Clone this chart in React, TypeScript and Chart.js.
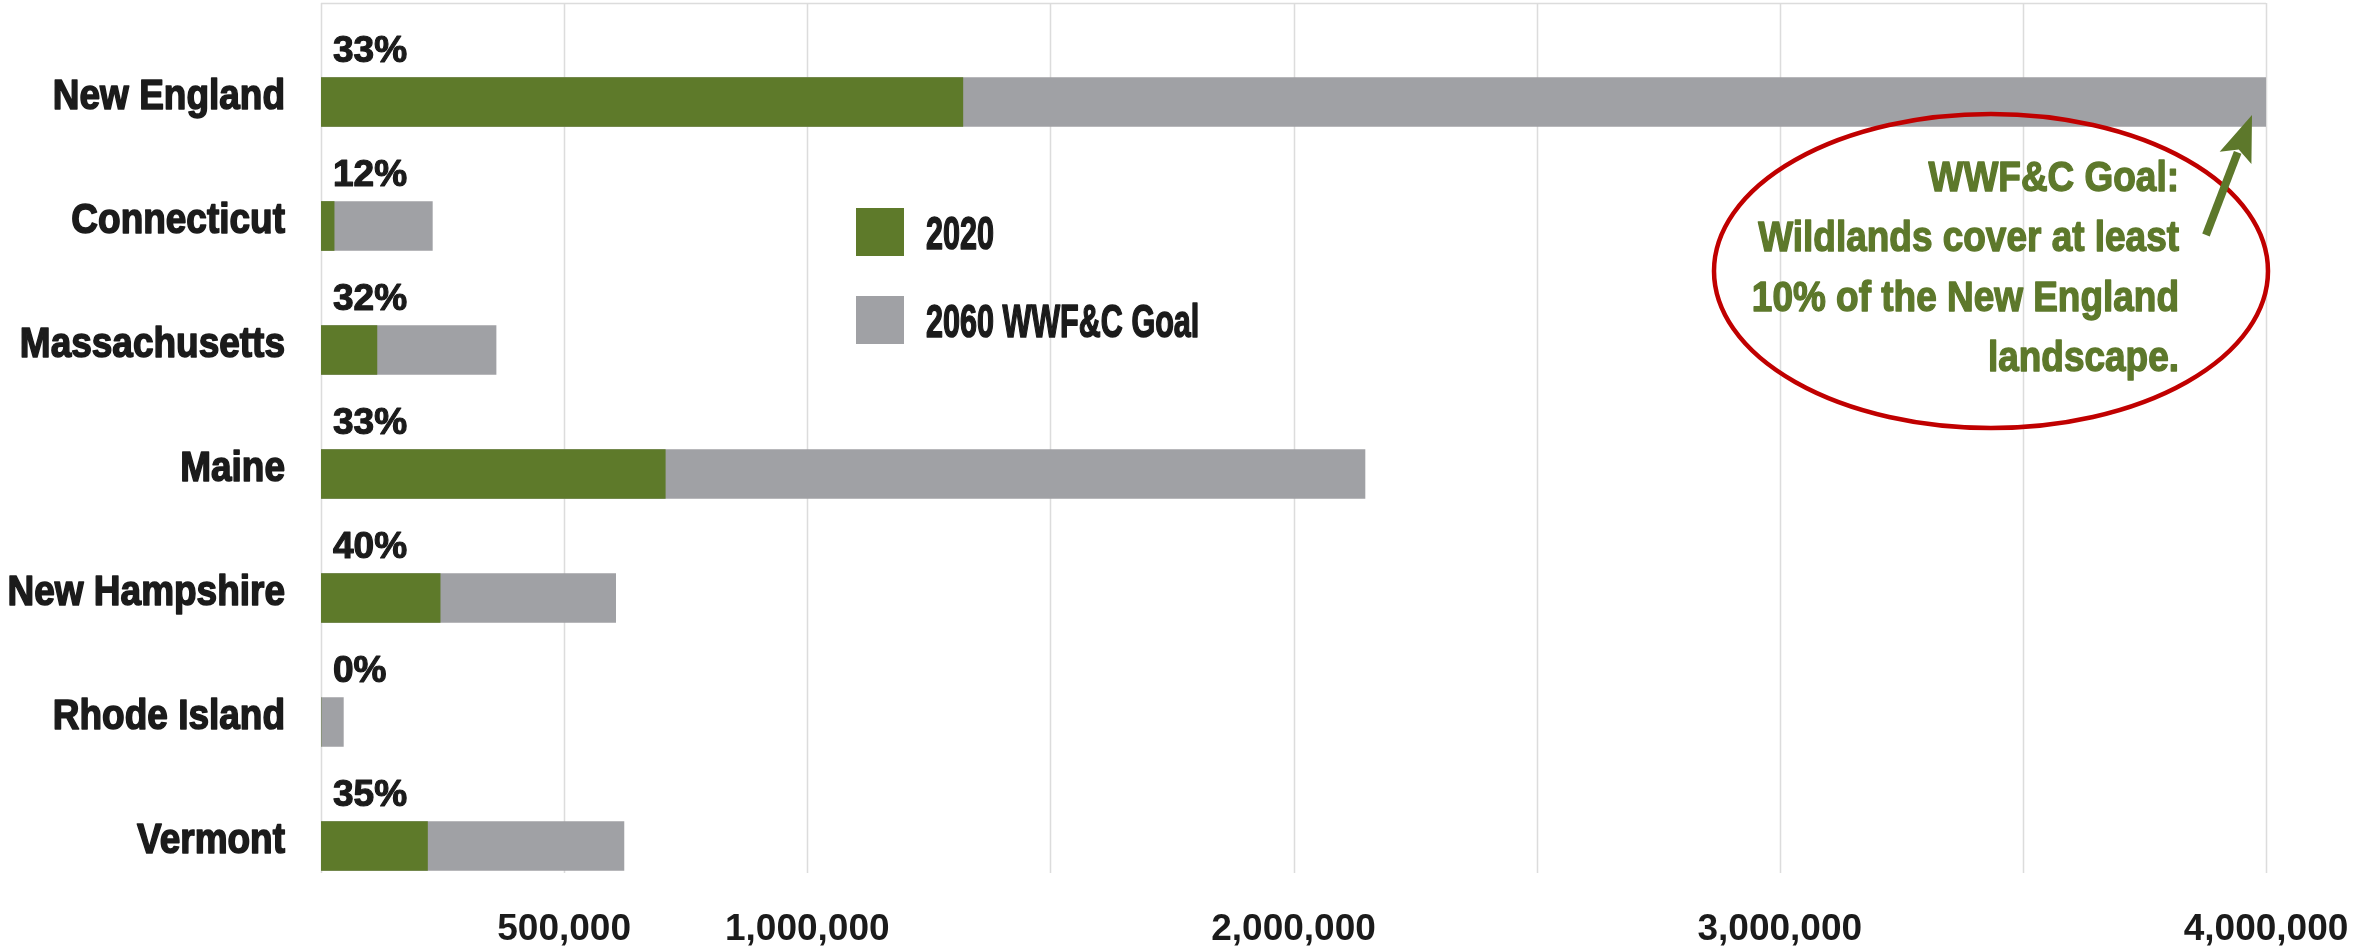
import React, { useEffect, useRef } from 'react';
import { Chart, registerables } from 'chart.js';

Chart.register(...registerables);

// ---- data ----
const categories = ['New England', 'Connecticut', 'Massachusetts', 'Maine', 'New Hampshire', 'Rhode Island', 'Vermont'];
const acres2020 = [1320000, 27000, 115000, 708000, 245000, 0, 219000];
const goal2060 = [4000000, 229000, 360000, 2147000, 606000, 46000, 623000];
const seriesNames = ['2020', '2060 WWF&C Goal'];
const xTickLabelValues = [500000, 1000000, 2000000, 3000000, 4000000];
const xMax = 4000000;
const xStep = 500000;
const annotationLines = ['WWF&C Goal:', 'Wildlands cover at least', '10% of the New England', 'landscape.'];

// ---- styles ----
const GREEN = '#5e7a2a';
const GRAY = '#a0a1a5';
const OLIVE = '#5d782b';
const RED = '#c00000';
const INK = '#1b1b1b';
const GRID = '#dcdcdc';
const SANS = "'Liberation Sans', Arial, sans-serif";

function drawScaledText(
  ctx: any,
  text: string,
  x: number,
  y: number,
  sx: number,
  align: CanvasTextAlign,
  baseline: CanvasTextBaseline,
  stroke = 0,
) {
  ctx.save();
  ctx.translate(x, y);
  ctx.scale(sx, 1);
  ctx.textAlign = align;
  ctx.textBaseline = baseline;
  if (stroke > 0) {
    ctx.strokeStyle = ctx.fillStyle;
    ctx.lineWidth = stroke;
    ctx.lineJoin = 'round';
    ctx.strokeText(text, 0, 0);
  }
  ctx.fillText(text, 0, 0);
  ctx.restore();
}

const gridPlugin = {
  id: 'customGrid',
  beforeDatasetsDraw(chart: any) {
    const { ctx, chartArea } = chart;
    const xs = chart.scales.x;
    const top = chartArea.top - 37;
    const bottom = chartArea.bottom - 35;
    ctx.save();
    ctx.strokeStyle = GRID;
    ctx.lineWidth = 1.5;
    xs.ticks.forEach((t: any) => {
      const px = Math.round(xs.getPixelForValue(t.value)) + 0.5;
      ctx.beginPath();
      ctx.moveTo(px, top);
      ctx.lineTo(px, bottom);
      ctx.stroke();
    });
    ctx.beginPath();
    ctx.moveTo(xs.left, top + 0.5);
    ctx.lineTo(xs.right, top + 0.5);
    ctx.stroke();
    ctx.restore();
  },
};

const overlayPlugin = {
  id: 'overlay',
  afterDatasetsDraw(chart: any) {
    const { ctx, chartArea } = chart;
    const xs = chart.scales.x;
    const ys = chart.scales.y;
    const meta = chart.getDatasetMeta(0);

    // category labels (condensed heavy)
    ctx.save();
    ctx.fillStyle = INK;
    ctx.font = `bold 43px ${SANS}`;
    ys.getLabels().forEach((lab: string, i: number) => {
      const y = ys.getPixelForValue(i);
      drawScaledText(ctx, lab, chartArea.left - 36, y - 5, 0.86, 'right', 'middle', 1.6);
    });
    ctx.restore();

    // percentage labels above each bar
    ctx.save();
    ctx.fillStyle = INK;
    ctx.font = `bold 37px ${SANS}`;
    meta.data.forEach((el: any, i: number) => {
      const pct = goal2060[i] > 0 ? Math.round((acres2020[i] / goal2060[i]) * 100) : 0;
      drawScaledText(ctx, `${pct}%`, chartArea.left + 12, el.y - 40, 1, 'left', 'alphabetic', 1.2);
    });
    ctx.restore();

    // legend
    const ds = chart.data.datasets;
    const lx = chartArea.left + 535;
    const ly = [chartArea.top + 168, chartArea.top + 256];
    ds.forEach((d: any, i: number) => {
      ctx.save();
      ctx.fillStyle = d.backgroundColor;
      ctx.fillRect(lx, ly[i], 48, 48);
      ctx.fillStyle = INK;
      ctx.font = `bold 47px ${SANS}`;
      drawScaledText(ctx, d.label, lx + 70, ly[i] + 41, 0.65, 'left', 'alphabetic', 1.6);
      ctx.restore();
    });

    // annotation ellipse
    const xRight = xs.getPixelForValue(xMax);
    const barY = meta.data[0].y;
    const cx = xRight - 275;
    const cy = barY + 169;
    ctx.save();
    ctx.strokeStyle = RED;
    ctx.lineWidth = 4.5;
    ctx.beginPath();
    ctx.ellipse(cx, cy, 277, 157, 0, 0, Math.PI * 2);
    ctx.stroke();

    // annotation text
    ctx.fillStyle = OLIVE;
    ctx.font = `bold 42px ${SANS}`;
    annotationLines.forEach((line, i) => {
      drawScaledText(ctx, line, xRight - 87, barY + 89 + i * 60, 0.88, 'right', 'alphabetic', 1.4);
    });

    // arrow
    const tipX = xRight - 14;
    const tipY = barY + 13;
    const tailX = tipX - 46;
    const tailY = tipY + 120;
    const dx = tipX - tailX;
    const dy = tipY - tailY;
    const len = Math.hypot(dx, dy);
    const ux = dx / len;
    const uy = dy / len;
    const L = 46;
    const hw = 17;
    const bx = tipX - ux * L;
    const by = tipY - uy * L;
    ctx.strokeStyle = OLIVE;
    ctx.fillStyle = OLIVE;
    ctx.lineWidth = 8;
    ctx.beginPath();
    ctx.moveTo(tailX, tailY);
    ctx.lineTo(bx + ux * 6, by + uy * 6);
    ctx.stroke();
    ctx.beginPath();
    ctx.moveTo(tipX, tipY);
    ctx.lineTo(bx - uy * hw, by + ux * hw);
    ctx.lineTo(bx + ux * 9, by + uy * 9);
    ctx.lineTo(bx + uy * hw, by - ux * hw);
    ctx.closePath();
    ctx.fill();
    ctx.restore();
  },
};

export default function App() {
  const ref = useRef<HTMLCanvasElement>(null);

  useEffect(() => {
    const canvas = ref.current;
    if (!canvas) return;
    const chart = new Chart(canvas, {
      type: 'bar',
      data: {
        labels: categories,
        datasets: [
          {
            label: seriesNames[0],
            data: acres2020,
            backgroundColor: GREEN,
            borderWidth: 0,
            barThickness: 49,
            grouped: false,
          } as any,
          {
            label: seriesNames[1],
            data: goal2060,
            backgroundColor: GRAY,
            borderWidth: 0,
            barThickness: 49,
            grouped: false,
          } as any,
        ],
      },
      options: {
        indexAxis: 'y',
        responsive: false,
        animation: false,
        devicePixelRatio: 1,
        layout: { padding: { top: 40, right: 108, left: 0, bottom: 0 } },
        plugins: {
          legend: { display: false },
          tooltip: { enabled: false },
        },
        scales: {
          x: {
            type: 'linear',
            position: 'bottom',
            min: 0,
            max: xMax,
            grid: { display: false, drawTicks: false },
            border: { display: false },
            ticks: {
              stepSize: xStep,
              autoSkip: false,
              maxRotation: 0,
              padding: 0,
              color: INK,
              font: { family: SANS, size: 37, weight: 'bold' },
              callback: (v: any) => (xTickLabelValues.includes(Number(v)) ? Number(v).toLocaleString('en-US') : ''),
            },
            afterFit: (scale: any) => {
              scale.height = 43;
            },
          },
          y: {
            type: 'category',
            grid: { display: false, drawTicks: false },
            border: { display: false },
            ticks: { display: false },
            afterFit: (scale: any) => {
              scale.width = 321;
            },
          },
        },
      } as any,
      plugins: [gridPlugin, overlayPlugin],
    });
    return () => chart.destroy();
  }, []);

  return (
    <div style={{ position: 'absolute', left: 0, top: 0, width: 2374, height: 951, background: '#ffffff' }}>
      <canvas ref={ref} width={2374} height={951} style={{ display: 'block', width: 2374, height: 951 }} />
    </div>
  );
}
